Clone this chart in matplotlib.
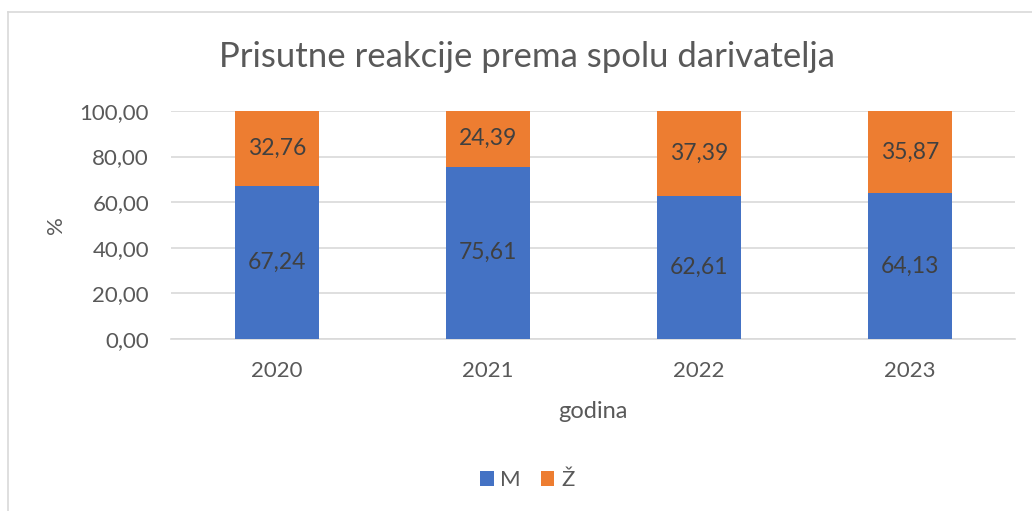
import numpy as np
import matplotlib.pyplot as plt
from matplotlib.lines import Line2D

plt.rcParams['font.family'] = ['Lato', 'DejaVu Sans']

godine = ['2020', '2021', '2022', '2023']
muski = [67.24, 75.61, 62.61, 64.13]
zenski = [32.76, 24.39, 37.39, 35.87]

plava = '#4472C4'
narancasta = '#ED7D31'
siva = '#595959'

fig = plt.figure(figsize=(10.32, 5.11), dpi=100)
ax = fig.add_axes([0.166, 0.3366, 0.818, 0.4462])

x = np.arange(len(godine))
b1 = ax.bar(x, muski, width=0.4, color=plava, label='M', zorder=3)
b2 = ax.bar(x, zenski, width=0.4, bottom=muski, color=narancasta, label='Ž', zorder=3)

def fmt(v):
    return f'{v:.2f}'.replace('.', ',')

for i in range(len(godine)):
    ax.text(x[i], muski[i] / 2, fmt(muski[i]), ha='center', va='center',
            fontsize=16.5, color='#404040', zorder=4)
    ax.text(x[i], muski[i] + zenski[i] / 2, fmt(zenski[i]), ha='center', va='center',
            fontsize=16.5, color='#404040', zorder=4)

ax.set_xlim(-0.5, len(godine) - 0.5)
ax.set_ylim(0, 100)
ax.set_yticks(np.arange(0, 101, 20))
ax.set_yticklabels([fmt(v) for v in np.arange(0, 101, 20)])
ax.set_xticks(x)
ax.set_xticklabels(godine)
ax.tick_params(axis='both', length=0, labelsize=16, colors=siva)
ax.tick_params(axis='y', pad=16)
ax.tick_params(axis='x', pad=16)
ax.grid(axis='y', color='#d9d9d9', linewidth=1.2, zorder=0)
for s in ['top', 'right', 'left']:
    ax.spines[s].set_visible(False)
ax.spines['bottom'].set_color('#d9d9d9')
ax.spines['bottom'].set_linewidth(1.2)

ax.set_xlabel('godina', fontsize=17, color=siva, labelpad=14)
ax.set_ylabel('%', fontsize=16, color=siva, labelpad=10)

fig.text(0.511, 0.888, 'Prisutne reakcije prema spolu darivatelja', ha='center', va='center',
         fontsize=25, color=siva)

fig.legend(handles=[b1, b2], labels=['M', 'Ž'], loc='center', bbox_to_anchor=(0.511, 0.06),
           ncol=2, frameon=False, fontsize=16, labelcolor=siva, handlelength=0.6,
           handleheight=0.6, handletextpad=0.3, columnspacing=0.9)

# okvir grafikona
fig.add_artist(Line2D([8 / 1032, 1], [1 - 12 / 511, 1 - 12 / 511], color='#d9d9d9', linewidth=1.2))
fig.add_artist(Line2D([8 / 1032, 8 / 1032], [0, 1 - 12 / 511], color='#d9d9d9', linewidth=1.2))

fig.savefig('out.png', dpi=100)
